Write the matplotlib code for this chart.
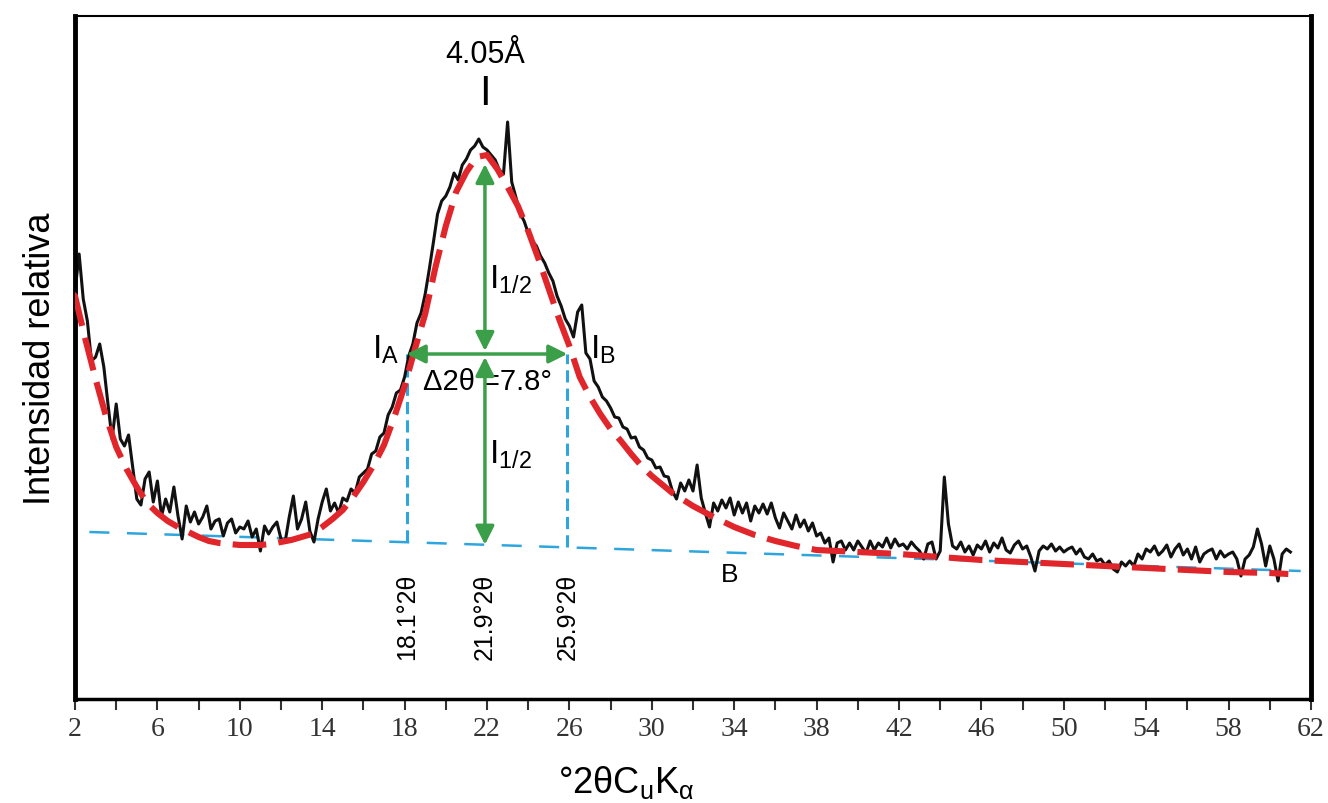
import numpy as np
import matplotlib
matplotlib.use("Agg")
import matplotlib.pyplot as plt

plt.rcParams['font.family'] = ['Liberation Sans', 'DejaVu Sans']
plt.rcParams['mathtext.fontset'] = 'custom'
plt.rcParams['mathtext.rm'] = 'Liberation Sans'
plt.rcParams['mathtext.it'] = 'Liberation Sans'

# measured pattern, step 0.2 deg from 2.0 to 61.0
two_theta = np.round(np.arange(2.0, 61.01, 0.2), 1)
counts = [408, 445, 400, 378, 338, 342, 355, 332, 295, 260,
          295, 260, 253, 264, 232, 200, 194, 220, 227, 197,
          218, 183, 200, 187, 212, 183, 160, 193, 177, 187,
          175, 182, 193, 170, 178, 180, 163, 176, 180, 166,
          172, 170, 178, 162, 170, 148, 173, 165, 172, 177,
          160, 157, 182, 203, 170, 180, 197, 168, 157, 180,
          197, 210, 188, 196, 186, 201, 198, 210, 206, 222,
          226, 230, 245, 248, 262, 266, 284, 292, 306, 309,
          322, 343, 355, 376, 386, 405, 430, 457, 485, 498,
          503, 512, 526, 519, 534, 540, 549, 553, 560, 552,
          549, 544, 539, 529, 525, 577, 517, 502, 486, 478,
          466, 458, 453, 443, 436, 426, 418, 403, 393, 380,
          373, 362, 387, 394, 346, 340, 318, 312, 302, 298,
          291, 282, 281, 272, 270, 261, 262, 252, 249, 241,
          239, 231, 232, 223, 222, 208, 200, 216, 208, 219,
          208, 234, 201, 186, 172, 196, 188, 199, 191, 201,
          184, 197, 186, 196, 178, 193, 186, 195, 185, 196,
          181, 171, 186, 178, 170, 184, 172, 179, 168, 176,
          163, 166, 156, 161, 137, 156, 158, 149, 156, 149,
          158, 152, 146, 158, 149, 156, 152, 161, 151, 160,
          153, 155, 150, 157, 152, 148, 140, 155, 157, 140,
          148, 222, 175, 153, 150, 157, 147, 153, 144, 154,
          150, 158, 147, 156, 151, 161, 149, 146, 154, 158,
          150, 153, 142, 128, 148, 153, 150, 155, 148, 152,
          147, 150, 152, 145, 150, 142, 140, 145, 138, 140,
          134, 138, 130, 127, 137, 133, 138, 133, 145, 140,
          150, 147, 153, 144, 148, 154, 142, 150, 155, 144,
          150, 140, 152, 137, 145, 148, 150, 140, 148, 142,
          145, 147, 140, 123, 140, 144, 152, 170, 155, 133,
          153, 140, 118, 145, 150, 147]

# fitted profile
fit_theta = [1.9, 2.0, 2.5, 3.0, 3.5, 4.0, 4.5, 5.0, 5.5, 6.0, 6.5, 7.0, 7.5,
             8.0, 8.5, 9.0, 9.5, 10.0, 10.5, 11.0, 11.5, 12.0, 12.5, 13.0,
             13.5, 14.0, 14.5, 15.0, 15.5, 16.0, 16.5, 17.0, 17.5, 18.0, 18.5,
             19.0, 19.5, 20.0, 20.5, 21.0, 21.5, 22.0, 22.5, 23.0, 23.5, 24.0,
             24.5, 25.0, 25.5, 26.0, 26.5, 27.0, 27.5, 28.0, 28.5, 29.0, 29.5,
             30.0, 31.0, 32.0, 33.0, 34.0, 35.0, 36.0, 37.0, 38.0, 39.0, 40.0,
             42.0, 44.0, 46.0, 48.0, 50.0, 52.0, 54.0, 56.0, 58.0, 60.0, 60.9]
fit_counts = [405, 403, 360, 320, 283, 252, 230, 212, 196, 186, 178, 172, 167,
              162, 158, 156, 155, 154, 154, 154, 155, 157, 159, 162,
              165, 172, 180, 189, 202, 217, 234, 254, 282, 313, 350,
              385, 432, 473, 507, 527, 542, 544, 530, 512, 493, 468,
              440, 410, 380, 353, 322, 302, 285, 270, 258, 245, 233,
              223, 206, 193, 182, 172, 164, 158, 153, 149, 148, 147,
              145, 142, 139, 137, 135, 133, 131, 129, 127, 126, 125]

# linear background
base_theta = [2.7, 61.5]
base_counts = [167, 128]

peak_pos = 21.9
left_pos = 18.1
right_pos = 25.9
half_height = 345
peak_top = 535

fig = plt.figure(figsize=(13.28, 8.04), dpi=100)
ax = fig.add_axes([75/1328, 1 - 700/804, 1236/1328, 683/804])

ax.plot(base_theta, base_counts, color='#2ea6dd', lw=1.8, dashes=(8, 7), zorder=1)
ax.plot(two_theta, counts, color='#111111', lw=2.2, zorder=2)
ax.plot(fit_theta, fit_counts, color='#e0262a', lw=4.4, dashes=(5.5, 2), zorder=3)

# vertical guides down to the background line
def base_at(x):
    return np.interp(x, base_theta, base_counts)

for x in (left_pos, right_pos):
    ax.plot([x, x], [base_at(x), half_height], color='#2ea6dd', lw=2.2,
            dashes=(4, 2), zorder=1)

green = '#3a9f48'
arr = dict(arrowstyle='<|-|>', color=green, lw=2.5, mutation_scale=28,
           shrinkA=0, shrinkB=0)
ax.annotate('', xy=(peak_pos, peak_top), xytext=(peak_pos, half_height + 3),
            arrowprops=arr, zorder=5)
ax.annotate('', xy=(peak_pos, base_at(peak_pos)), xytext=(peak_pos, half_height - 3),
            arrowprops=arr, zorder=5)
ax.annotate('', xy=(left_pos, half_height), xytext=(right_pos, half_height),
            arrowprops=arr, zorder=5)

ax.text(peak_pos, 645, '4.05Å', ha='center', va='center', fontsize=22)
ax.text(peak_pos, 606, 'I', ha='center', va='center', fontsize=30)
ax.text(peak_pos + 0.2, 420, r'$\mathregular{I_{1/2}}$', ha='left', va='center',
        fontsize=24)
ax.text(peak_pos + 0.2, 245, r'$\mathregular{I_{1/2}}$', ha='left', va='center',
        fontsize=24)
ax.text(left_pos - 0.35, 350, r'$\mathregular{I_{A}}$', ha='right', va='center',
        fontsize=24)
ax.text(right_pos + 1.1, 350, r'$\mathregular{I_{B}}$', ha='left', va='center',
        fontsize=24)
ax.text((left_pos + right_pos) / 2, 318, 'Δ2θ =7.8°', ha='center', va='center',
        fontsize=21)
ax.text(33.8, 125, 'B', ha='center', va='center', fontsize=19)
for x, s in ((left_pos, '18.1°2θ'), (peak_pos, '21.9°2θ'), (right_pos, '25.9°2θ')):
    ax.text(x, 83, s, rotation=90, ha='center', va='center', fontsize=18)

ax.set_xlim(2, 62)
ax.set_ylim(0, 683)
ax.set_xticks(range(2, 63, 4))
ax.set_xticks(range(4, 61, 4), minor=True)
ax.set_yticks([])
ax.tick_params(axis='x', which='both', direction='out', length=8, width=1.5,
               color='#333333')
ax.tick_params(axis='x', which='major', labelsize=20, pad=4,
               labelcolor='#333333')
for lbl in ax.get_xticklabels():
    lbl.set_family('Liberation Serif')

ax.spines['left'].set_linewidth(3.5)
ax.spines['right'].set_linewidth(3.5)
ax.spines['bottom'].set_linewidth(2.5)
ax.spines['top'].set_linewidth(1.5)

ax.set_ylabel('Intensidad relativa', fontsize=26, labelpad=12)
fig.text(626 / 1328, 1 - 783 / 804, r'°2θC$\mathregular{_u}$K$\mathregular{_α}$',
         ha='center', va='center', fontsize=26)

fig.savefig('out.png', dpi=100)
